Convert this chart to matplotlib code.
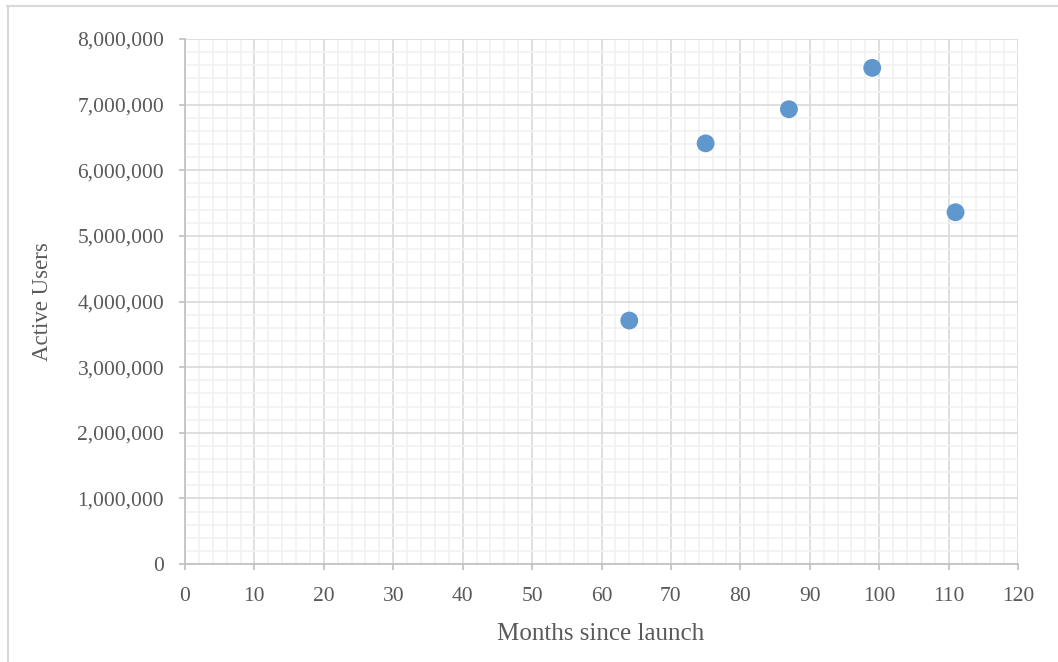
import matplotlib
matplotlib.use("Agg")
import matplotlib.pyplot as plt
from matplotlib.ticker import MultipleLocator, FuncFormatter
from matplotlib.lines import Line2D

months = [64, 75, 87, 99, 111]
active_users = [3710000, 6410000, 6930000, 7560000, 5360000]
x_label = "Months since launch"
y_label = "Active Users"

plt.rcParams['font.family'] = ['Liberation Serif', 'DejaVu Serif']
text_color = "#595959"

fig = plt.figure(figsize=(10.58, 6.62), dpi=100)
ax = fig.add_axes([185/1058, 1-564/662, (1018-185)/1058, (564-39)/662])

ax.set_xlim(0, 120)
ax.set_ylim(0, 8000000)
ax.xaxis.set_major_locator(MultipleLocator(10))
ax.xaxis.set_minor_locator(MultipleLocator(2))
ax.yaxis.set_major_locator(MultipleLocator(1000000))
ax.yaxis.set_minor_locator(MultipleLocator(200000))
ax.yaxis.set_major_formatter(FuncFormatter(lambda v, p: f"{int(v):,}"))

ax.grid(which='minor', color='#f1f1f1', linewidth=1.2, zorder=0)
ax.grid(which='major', color='#d9d9d9', linewidth=1.2, zorder=0.5)
ax.set_axisbelow(True)

for s in ['top', 'right']:
    ax.spines[s].set_visible(False)
for s in ['left', 'bottom']:
    ax.spines[s].set_color('#bfbfbf')
    ax.spines[s].set_linewidth(1.2)

ax.tick_params(which='major', direction='out', length=4.5, width=1.2, color='#bfbfbf',
               labelsize=15.5, labelcolor=text_color)
ax.tick_params(axis='y', which='major', pad=10.5)
ax.tick_params(axis='x', which='major', pad=12)
ax.tick_params(which='minor', length=0)

ax.scatter(months, active_users, s=165, color='#6097cc', edgecolors='none', zorder=3, clip_on=False)

ax.set_xlabel(x_label, fontsize=18, color=text_color)
ax.set_ylabel(y_label, fontsize=16.5, color=text_color)
ax.xaxis.set_label_coords((601 - 185) / (1018 - 185), -(634 - 564) / (564 - 39))
ax.yaxis.set_label_coords(-(185 - 42) / (1018 - 185), 0.5)
ax.xaxis.label.set_va('center')
ax.yaxis.label.set_va('center')

# outer border (top and left visible)
fig.add_artist(Line2D([7/1058, 1.0], [1-5.5/662, 1-5.5/662], transform=fig.transFigure, color='#d9d9d9', linewidth=1.5))
fig.add_artist(Line2D([7.5/1058, 7.5/1058], [0, 1-5.5/662], transform=fig.transFigure, color='#d9d9d9', linewidth=1.5))

fig.savefig("out.png", dpi=100, facecolor='white')
